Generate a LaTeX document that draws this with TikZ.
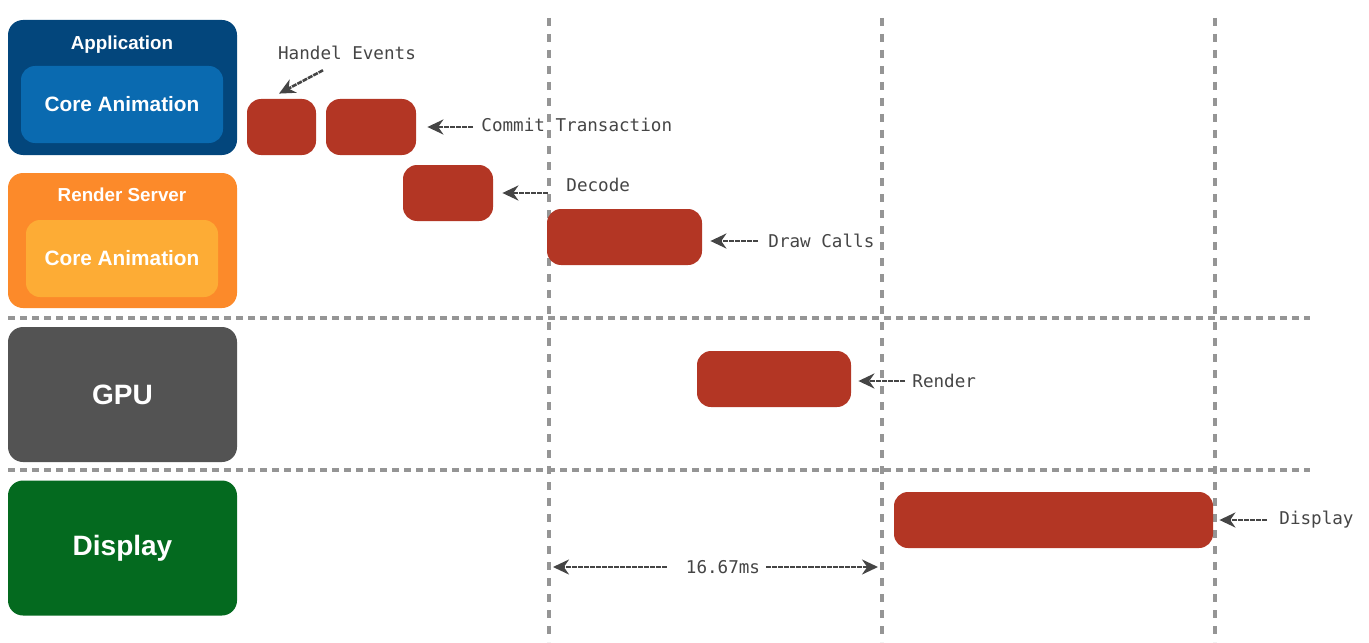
\documentclass[tikz,border=0pt]{standalone}
\usepackage{fontspec}
\setmainfont{Liberation Sans}
\newfontfamily\notefont{DejaVu Sans Mono}
\usetikzlibrary{arrows.meta,positioning}
\definecolor{appblue}{HTML}{03467C}
\definecolor{coreblue}{HTML}{0A6AB0}
\definecolor{srvorange}{HTML}{FC8A2A}
\definecolor{coreorange}{HTML}{FDAC35}
\definecolor{gpugray}{HTML}{535353}
\definecolor{dispgreen}{HTML}{046A1F}
\definecolor{taskred}{HTML}{B33624}
\definecolor{notegray}{HTML}{454545}
\definecolor{linegray}{HTML}{959595}
\tikzset{
  lanebox/.style={rounded corners=7.5pt, minimum width=114.5pt, minimum height=67.5pt,
    inner sep=0pt, text=white, font=\bfseries\fontsize{14}{16}\selectfont},
  corebox/.style={rounded corners=7pt, minimum height=38.5pt, inner sep=0pt,
    text=white, font=\bfseries\fontsize{10.4}{12}\selectfont},
  lanetitle/.style={text=white, inner sep=0pt, font=\bfseries\fontsize{9.4}{11}\selectfont},
  taskbox/.style={fill=taskred, rounded corners=7pt, minimum height=28pt, inner sep=0pt},
  note/.style={text=notegray, inner sep=1pt, font=\notefont\fontsize{8.8}{11}\selectfont},
  pointer/.style={draw=notegray, line width=1.3pt, dash pattern=on 2.5pt off 0.5pt,
    -{Stealth[length=8pt,width=7.5pt]}},
  laneline/.style={draw=linegray, line width=1.7pt, dash pattern=on 3.5pt off 2.5pt},
  frameline/.style={draw=linegray, line width=1.6pt, dash pattern=on 4pt off 4pt},
}
\begin{document}
\begin{tikzpicture}[x=0.5pt,y=-0.5pt]
  \useasboundingbox (0,0) rectangle (1369,642);
  % frame and lane separators
  \draw[frameline] (549,18) -- (549,642);
  \draw[frameline] (882,18) -- (882,642);
  \draw[frameline] (1215,18) -- (1215,642);
  \draw[laneline] (8,318) -- (1310,318);
  \draw[laneline] (8,470) -- (1310,470);
  % lanes
  \node[lanebox, fill=appblue] (app) at (122.5,87.5) {};
  \node[lanetitle] (apptitle) at (122,45) {Application};
  \node[corebox, fill=coreblue, minimum width=101pt] (appcore) at (122,104.5) {Core Animation};
  \node[lanebox, fill=srvorange] (srv) at (122.5,240.5) {};
  \node[lanetitle] (srvtitle) at (122,195) {Render Server};
  \node[corebox, fill=coreorange, minimum width=96pt] (srvcore) at (122,258.5) {Core Animation};
  \node[lanebox, fill=gpugray] (gpu) at (122.5,394.5) {GPU};
  \node[lanebox, fill=dispgreen] (disp) at (122.5,548) {Display};
  % tasks
  \node[taskbox, minimum width=34.5pt] (t1) at (281.5,127) {};
  \node[taskbox, minimum width=45pt] (t2) at (371,127) {};
  \node[taskbox, minimum width=45pt] (t3) at (448,193) {};
  \node[taskbox, minimum width=77.5pt] (t4) at (624.5,237) {};
  \node[taskbox, minimum width=77pt] (t5) at (774,379) {};
  \node[taskbox, minimum width=159.5pt] (t6) at (1053.5,520) {};
  % notes
  \node[note] (hev) at (347,53) {Handel Events};
  \node[note, anchor=west] (commit) at (479,125) {Commit Transaction};
  \node[note, anchor=west] (decode) at (564,185) {Decode};
  \node[note, anchor=west] (draw) at (766,241) {Draw Calls};
  \node[note, anchor=west] (render) at (910,381) {Render};
  \node[note, anchor=west] (show) at (1277,520) {Display};
  \node[note] (ms) at (723,567) {16.67ms};
  \coordinate (f1) at (549,566);
  \coordinate (f2) at (882,566);
  % pointers
  \draw[pointer] ([xshift=-12pt,yshift=-4pt]hev.south) -- ([xshift=-1.25pt,yshift=2.5pt]t1.north);
  \draw[pointer, shorten <=3pt, shorten >=5.5pt] (commit.west |- t2.east) -- (t2.east);
  \draw[pointer, shorten <=8pt, shorten >=4.5pt] (decode.west |- t3.east) -- (t3.east);
  \draw[pointer, shorten <=4pt, shorten >=4pt] (draw.west) -- (draw.west -| t4.east);
  \draw[pointer, shorten <=2.5pt, shorten >=3.5pt] (render.west) -- (render.west -| t5.east);
  \draw[pointer, shorten <=5pt, shorten >=3pt] (show.west) -- (show.west -| t6.east);
  \draw[pointer, shorten <=8.5pt, shorten >=2pt] (ms.west) -- (ms.west -| f1);
  \draw[pointer, shorten <=2pt, shorten >=2pt] (ms.east) -- (ms.east -| f2);
\end{tikzpicture}
\end{document}
